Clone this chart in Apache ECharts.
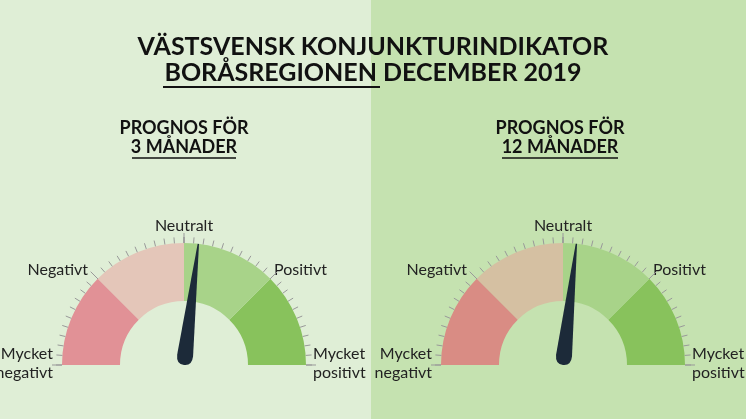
<!DOCTYPE html>
<html>
<head>
<meta charset="utf-8">
<script src="https://cdn.jsdelivr.net/npm/echarts@6/dist/echarts.min.js"></script>
<style>html,body{margin:0;padding:0;}#chart{width:746px;height:419px;}</style>
</head>
<body>
<div id="chart"></div>
<script>
// data
var titleLines = ['VÄSTSVENSK KONJUNKTURINDIKATOR', 'BORÅSREGIONEN', ' DECEMBER 2019'];
var horizons = ['3 MÅNADER', '12 MÅNADER'];
var values = [7.5, 7];
var centerLabel = 'Neutralt';
var sideLabels = ['Mycket\nnegativt', 'Negativt', 'Positivt', 'Mycket\npositivt'];
var zoneColors = [
    ['#e19196', '#e4c6b9', '#a8d389', '#88c25c'],
    ['#d98c84', '#d5c0a2', '#a8d389', '#88c25c']
];
var centersX = [184, 563];
var centerY = 365;
var font = 'Lato';

var chart = echarts.init(document.getElementById('chart'));

function gauge(i) {
    var c = zoneColors[i];
    return {
        type: 'gauge',
        center: [centersX[i], centerY],
        radius: 122,
        startAngle: 180, endAngle: 0,
        min: -100, max: 100,
        splitNumber: 4,
        axisLine: {lineStyle: {width: 58, color: [[0.25, c[0]], [0.5, c[1]], [0.75, c[2]], [1, c[3]]]}},
        axisTick: {show: true, distance: -64, length: 6, splitNumber: 10, lineStyle: {color: '#999', width: 1}},
        splitLine: {distance: -68, length: 10, lineStyle: {color: '#999', width: 1}},
        axisLabel: {
            distance: 33, color: '#222', fontSize: 16, fontFamily: font,
            formatter: function (v) { return v === 0 ? centerLabel : ''; }
        },
        pointer: {length: '100%', width: 16, offsetCenter: [0, 0], itemStyle: {color: '#1c2a39'},
            icon: 'path://M5.5,0 L6.5,0 L12,96 Q12,104 6,104 Q0,104 0,96 Z'},
        anchor: {show: false},
        title: {show: false},
        detail: {show: false},
        data: [{value: values[i]}]
    };
}

var graphics = [
    {type: 'rect', shape: {x: 0, y: 0, width: 371, height: 419}, style: {fill: '#dfeed6'}, z: -10},
    {type: 'rect', shape: {x: 371, y: 0, width: 375, height: 419}, style: {fill: '#c5e2b0'}, z: -10},
    {type: 'text', x: 373, y: 47, style: {text: titleLines[0], font: 'bold 25px ' + font, fill: '#111', align: 'center', verticalAlign: 'middle'}},
    {type: 'text', x: 373, y: 73, style: {text: titleLines[1] + titleLines[2], font: 'bold 25px ' + font, fill: '#111', align: 'center', verticalAlign: 'middle'}},
    {type: 'line', shape: {x1: 163, y1: 87, x2: 380, y2: 87}, style: {stroke: '#111', lineWidth: 2}}
];
// side label placement relative to gauge centre
var sideOffsets = [[-131, -2, 'right'], [-96, -95, 'right'], [90, -95, 'left'], [129, -2, 'left']];
horizons.forEach(function (h, i) {
    var x = [184, 560][i];
    graphics.push({type: 'text', x: x, y: 128, style: {text: 'PROGNOS FÖR', font: 'bold 18px ' + font, fill: '#111', align: 'center', verticalAlign: 'middle'}});
    graphics.push({type: 'text', x: x, y: 147, style: {text: h, font: 'bold 18px ' + font, fill: '#111', align: 'center', verticalAlign: 'middle'}});
    var w = i === 0 ? 104 : 116;
    graphics.push({type: 'line', shape: {x1: x - w / 2, y1: 158, x2: x + w / 2, y2: 158}, style: {stroke: '#111', lineWidth: 1.5}});
    sideLabels.forEach(function (t, k) {
        var o = sideOffsets[k];
        graphics.push({type: 'text', x: centersX[i] + o[0], y: centerY + o[1],
            style: {text: t, font: '16px ' + font, lineHeight: 19, fill: '#222', align: o[2], verticalAlign: 'middle'}});
    });
});

chart.setOption({
    animation: false,
    graphic: graphics,
    series: [gauge(0), gauge(1)]
});
</script>
</body>
</html>
